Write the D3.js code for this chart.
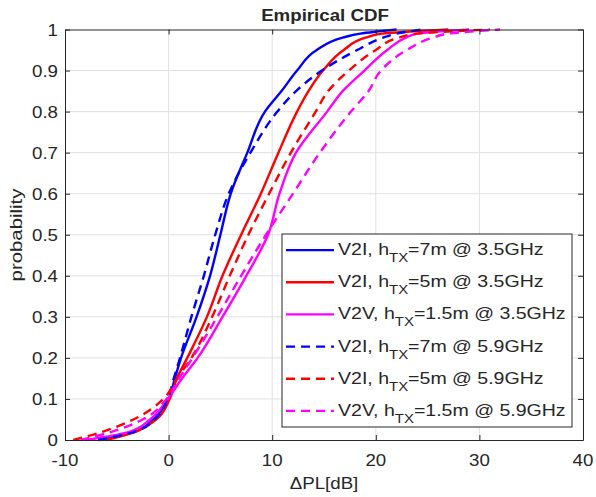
<!DOCTYPE html>
<html lang="en">
<head>
<meta charset="UTF-8">
<title>Empirical CDF</title>
<style>
  body { margin: 0; background: #fff; }
  svg text { font-family: "Liberation Sans", Arial, sans-serif; fill: #262626; }
</style>
</head>
<body>
<svg id="chart" width="596" height="497"></svg>
<script src="https://cdn.jsdelivr.net/npm/d3@7"></script>
<script>
const probLevels = [0, 0.02, 0.05, 0.1, 0.15, 0.2, 0.3, 0.4, 0.5, 0.6, 0.7, 0.8, 0.85, 0.9, 0.95, 0.98, 0.99, 1];

const v2i7m35  = [-6.7, -3.3, -1.5, 0.0, 0.6, 1.2, 2.7, 4.0, 5.0, 6.0, 7.6, 9.3, 10.9, 12.4, 14.3, 16.8, 18.5, 22];
const v2i5m35  = [-6.0, -3.2, -1.2, 0.1, 0.8, 1.8, 3.7, 5.2, 7.0, 8.9, 10.6, 12.4, 13.5, 14.9, 16.9, 19.0, 20.6, 27];
const v2v15m35 = [-8.0, -3.8, -1.8, -0.1, 1.3, 2.8, 5.2, 7.5, 9.6, 10.7, 12.3, 15.3, 16.8, 18.9, 21.1, 22.9, 24.0, 29];
const v2i7m59  = [-6.8, -3.3, -1.4, -0.1, 0.5, 1.1, 2.2, 3.4, 4.5, 5.8, 7.9, 10.5, 12.3, 14.8, 18.2, 20.7, 22.0, 24.5];
const v2i5m59  = [-9.2, -6.4, -3.4, -0.5, 0.8, 2.2, 4.2, 5.9, 7.7, 9.7, 11.8, 14.2, 15.4, 17.4, 20.0, 22.2, 24.0, 31];
const v2v15m59 = [-8.5, -5.5, -2.5, -0.2, 1.0, 2.3, 4.7, 7.0, 9.4, 12.0, 14.6, 17.6, 19.3, 20.5, 23.0, 25.5, 27.0, 32];

const seriesNames = [
  ["V2I, h", "TX", "=7m @ 3.5GHz"],
  ["V2I, h", "TX", "=5m @ 3.5GHz"],
  ["V2V, h", "TX", "=1.5m @ 3.5GHz"],
  ["V2I, h", "TX", "=7m @ 5.9GHz"],
  ["V2I, h", "TX", "=5m @ 5.9GHz"],
  ["V2V, h", "TX", "=1.5m @ 5.9GHz"]
];
const seriesData = [v2i7m35, v2i5m35, v2v15m35, v2i7m59, v2i5m59, v2v15m59];
const seriesColors = ["#0000ff", "#ff0000", "#ff00ff", "#0000ff", "#ff0000", "#ff00ff"];
const seriesDashed = [false, false, false, true, true, true];

const xTicks = [-10, 0, 10, 20, 30, 40];
const yTicks = [0, 0.1, 0.2, 0.3, 0.4, 0.5, 0.6, 0.7, 0.8, 0.9, 1];

const svg = d3.select("#chart");
const m = { left: 65, right: 583, top: 29.5, bottom: 440 };
const stretch = 1.1; // reference type renders a bit wider than Liberation Sans

const x = d3.scaleLinear().domain([-10, 40]).range([m.left, m.right]);
const y = d3.scaleLinear().domain([0, 1]).range([m.bottom, m.top]);

// grid
svg.append("g").selectAll("line").data(xTicks.slice(1, -1)).join("line")
  .attr("x1", d => x(d)).attr("x2", d => x(d))
  .attr("y1", m.top).attr("y2", m.bottom)
  .attr("stroke", "#e1e1e1").attr("stroke-width", 1);
svg.append("g").selectAll("line").data(yTicks.slice(1, -1)).join("line")
  .attr("y1", d => y(d)).attr("y2", d => y(d))
  .attr("x1", m.left).attr("x2", m.right)
  .attr("stroke", "#e1e1e1").attr("stroke-width", 1);

// curves
const line = d3.line().x(d => x(d[0])).y(d => y(d[1])).curve(d3.curveMonotoneY);
svg.append("g").selectAll("path").data(d3.range(seriesData.length)).join("path")
  .attr("d", i => line(seriesData[i].map((v, k) => [v, probLevels[k]])))
  .attr("fill", "none")
  .attr("stroke", i => seriesColors[i])
  .attr("stroke-width", 2.4)
  .attr("stroke-linejoin", "round")
  .attr("stroke-dasharray", i => seriesDashed[i] ? "9,6" : null);

// axes box and inward ticks
const axisColor = "#262626";
const xAxisB = d3.axisBottom(x).tickValues(xTicks).tickSizeInner(-5).tickSizeOuter(0).tickFormat("");
const xAxisT = d3.axisTop(x).tickValues(xTicks).tickSizeInner(-5).tickSizeOuter(0).tickFormat("");
const yAxisL = d3.axisLeft(y).tickValues(yTicks).tickSizeInner(-5).tickSizeOuter(0).tickFormat("");
const yAxisR = d3.axisRight(y).tickValues(yTicks).tickSizeInner(-5).tickSizeOuter(0).tickFormat("");
svg.append("g").attr("transform", `translate(0,${m.bottom})`).call(xAxisB);
svg.append("g").attr("transform", `translate(0,${m.top})`).call(xAxisT);
svg.append("g").attr("transform", `translate(${m.left},0)`).call(yAxisL);
svg.append("g").attr("transform", `translate(${m.right},0)`).call(yAxisR);
svg.selectAll(".domain, .tick line").attr("stroke", axisColor).attr("stroke-width", 1);

// text helper with a slight horizontal stretch
function label(px, py, str, anchor, size, weight, sx) {
  const g = svg.append("g").attr("transform", `translate(${px},${py}) scale(${sx || stretch},1)`);
  return g.append("text").attr("text-anchor", anchor)
    .attr("font-size", size).attr("font-weight", weight || "normal").text(str);
}

xTicks.forEach(t => label(x(t), 466, t, "middle", 17));
yTicks.forEach(t => label(58, y(t) + 6, t, "end", 17));

label(325, 21, "Empirical CDF", "middle", 17, "bold");
label(324, 489, "\u0394PL[dB]", "middle", 17);
svg.append("g").attr("transform", "translate(22,235) rotate(-90) scale(1.2,1)")
  .append("text").attr("text-anchor", "middle").attr("font-size", 17).text("probability");

// legend
const lg = { x0: 282, y0: 234, x1: 572, y1: 427 };
svg.append("rect").attr("x", lg.x0).attr("y", lg.y0)
  .attr("width", lg.x1 - lg.x0).attr("height", lg.y1 - lg.y0)
  .attr("fill", "#fff").attr("stroke", axisColor).attr("stroke-width", 1);
const rowH = (lg.y1 - lg.y0) / seriesNames.length;
seriesNames.forEach((name, i) => {
  const cy = lg.y0 + rowH * (i + 0.5);
  svg.append("line").attr("x1", 286).attr("x2", 334).attr("y1", cy).attr("y2", cy)
    .attr("stroke", seriesColors[i]).attr("stroke-width", 2.4)
    .attr("stroke-dasharray", seriesDashed[i] ? "9,6" : null);
  const t = label(338, cy + 5, "", "start", 17, "normal", 1.15);
  t.append("tspan").text(name[0]);
  t.append("tspan").attr("font-size", 13).attr("dy", 7).text(name[1]);
  t.append("tspan").attr("dy", -7).text(name[2]);
});
</script>
</body>
</html>
